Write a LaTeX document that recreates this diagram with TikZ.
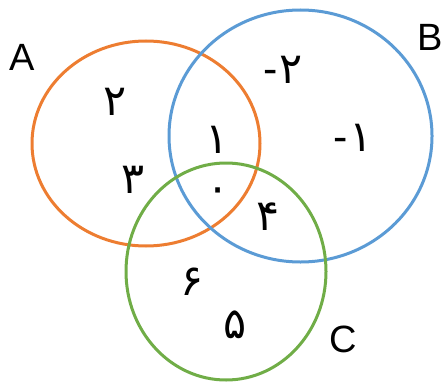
\documentclass[tikz,border=0pt]{standalone}
\usepackage{fontspec}
\setmainfont{Liberation Sans}
\newfontfamily\arabicfont[Script=Arabic]{DejaVu Sans}
\TeXXeTstate=1
\definecolor{setorange}{HTML}{ED7D31}
\definecolor{setblue}{HTML}{5B9BD5}
\definecolor{setgreen}{HTML}{70AD47}
\begin{document}
\begin{tikzpicture}[
  x=1pt, y=-1pt,
  setline/.style={line width=3pt},
  setname/.style={font=\fontsize{38}{38}\selectfont, inner sep=0pt},
  elem/.style={font=\fontsize{43}{43}\selectfont, inner sep=0pt}
]
\useasboundingbox (0,0) rectangle (443,382);

% Sets
\draw[setline, setorange] (146,143.5) ellipse [x radius=114, y radius=102.5];
\draw[setline, setblue] (300.5,136) ellipse [x radius=131.5, y radius=126];
\draw[setline, setgreen] (226,271.5) ellipse [x radius=100, y radius=108.5];

% Set names
\node[setname] (nameA) at (22,57) {A};
\node[setname] (nameB) at (430,37) {B};
\node[setname] (nameC) at (343,339) {C};

% Elements
\node[elem] (two) at (115,102) {\arabicfont\beginR ۲\endR};
\node[elem] (three) at (133,180) {\arabicfont\beginR ۳\endR};
\node[elem] (one) at (217,140) {\arabicfont\beginR ۱\endR};
\node[elem] (zero) at (218,195) {\arabicfont\beginR ۰\endR};
\node[elem] (four) at (268,217) {\arabicfont\beginR ۴\endR};
\node[elem] (mtwo) at (283,70) {-\kern1pt{\arabicfont ۲}};
\node[elem] (mone) at (353,138) {-\kern1pt{\arabicfont ۱}};
\node[elem] (six) at (192,282) {\arabicfont\beginR ۶\endR};
\node[elem] (five) at (235,325) {\arabicfont\beginR ۵\endR};
\end{tikzpicture}
\end{document}
